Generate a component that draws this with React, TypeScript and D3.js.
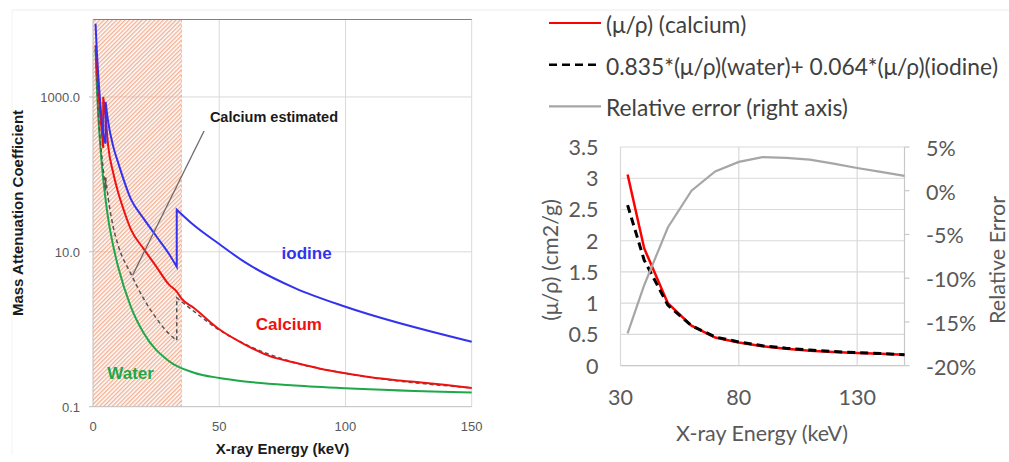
import React from 'react';
import * as d3 from 'd3';

const W = 1009;
const H = 462;

// ---------- Left chart: mass attenuation coefficient (log axis) ----------
const xTicksLeft = [0, 50, 100, 150];
const yTicksLeft = [0.1, 10, 1000];

const waterE = [1, 1.5, 2, 3, 4, 5, 6, 8, 10, 15, 20, 30, 40, 50, 60, 80, 100, 150];
const waterMu = [4200, 1450, 650, 210, 90, 47, 27, 12, 6.3, 1.95, 0.9, 0.39, 0.275, 0.235, 0.212, 0.188, 0.173, 0.152];

const iodineE = [1, 1.5, 2, 3, 4, 5, 5, 6, 8, 10, 15, 20, 25, 30, 33.17, 33.17, 40, 50, 60, 80, 100, 150];
const iodineMu = [8850, 4000, 2100, 750, 340, 250, 862, 480, 230, 140, 48, 27, 16, 9.5, 6.4, 35, 22, 12.6, 7.4, 3.4, 1.95, 0.69];

const calciumE = [1, 2, 3, 4.04, 4.04, 5, 6, 8, 10, 12, 15, 20, 25, 30, 33.17, 35, 40, 50, 60, 70, 80, 90, 100, 110, 120, 130, 140, 150];
const calciumMu = [4650, 1400, 520, 220, 1000, 560, 235, 105, 58, 36, 19.5, 11, 6.5, 3.8, 3.06, 2.5, 1.88, 1.0, 0.64, 0.45, 0.37, 0.31, 0.27, 0.24, 0.22, 0.205, 0.19, 0.174];

const estE = [1, 2, 3, 4, 5, 5, 6, 8, 10, 15, 20, 25, 30, 33.17, 33.17, 36, 40, 50, 60, 80, 100, 150];
const estMu = [4000, 720, 250, 120, 62, 92, 50, 21, 12, 5.2, 2.5, 1.4, 0.88, 0.72, 2.55, 2.15, 1.7, 0.98, 0.65, 0.37, 0.27, 0.175];

const hatchRange = [0, 35];

// annotation (data coordinates)
const annotText = 'Calcium estimated';
const annotTextAt = [46.3, 472];
const annotFrom = [44, 364];
const annotTo = [15.7, 5.0];

const seriesLabels = [
  { text: 'iodine', e: 84.6, mu: 8.0, color: '#3333EE' },
  { text: 'Calcium', e: 77.6, mu: 0.975, color: '#EE1111' },
  { text: 'Water', e: 14.9, mu: 0.225, color: '#1FA84A' },
];

// ---------- Right chart: linear axis with relative error ----------
const xTicksRight = [30, 80, 130];
const yTicksRight = [0, 0.5, 1, 1.5, 2, 2.5, 3, 3.5];
const errTicks = [-20, -15, -10, -5, 0, 5];

const rE = [33, 40, 50, 60, 70, 80, 90, 100, 110, 120, 130, 140, 150];
const rCalcium = [3.06, 1.88, 1.0, 0.64, 0.45, 0.37, 0.31, 0.27, 0.24, 0.22, 0.205, 0.19, 0.174];
const rEstimated = [2.57, 1.69, 0.97, 0.64, 0.46, 0.38, 0.32, 0.28, 0.25, 0.226, 0.21, 0.195, 0.177];
const rError = [-16.3, -10.8, -4.2, 0.0, 2.2, 3.3, 3.85, 3.75, 3.55, 3.1, 2.6, 2.15, 1.7];

const MU = '\u03bc';
const RHO = '\u03c1';
const legendItems = [
  { text: `(${MU}/${RHO}) (calcium)`, color: '#FF0000', dash: null as string | null, width: 2.2 },
  { text: `0.835*(${MU}/${RHO})(water)+ 0.064*(${MU}/${RHO})(iodine)`, color: '#000000', dash: '8,5', width: 2.5 },
  { text: 'Relative error (right axis)', color: '#A6A6A6', dash: null as string | null, width: 2.2 },
];
const rightYTitle = `(${MU}/${RHO}) (cm2/g)`;

const boldFont = '"Liberation Sans", Arial, sans-serif';
const lightFont = 'Lato, "Open Sans", sans-serif';

export default function App() {
  // left scales
  const xL = d3.scaleLinear().domain([0, 150]).range([93, 471.7]);
  const yL = d3.scaleLog().domain([0.1, 10000]).range([406.7, 19.5]);

  // smooth curve, split at absorption edges (repeated energies) which are drawn as vertical jumps
  const lineL = (E: number[], M: number[]) => {
    const pts = E.map((e, i) => [xL(e), yL(M[i])] as [number, number]);
    const segs: [number, number][][] = [];
    let cur: [number, number][] = [];
    pts.forEach((p, i) => {
      if (i > 0 && E[i] === E[i - 1]) {
        segs.push(cur);
        cur = [];
      }
      cur.push(p);
    });
    segs.push(cur);
    const gen = d3.line<[number, number]>().curve(d3.curveMonotoneX);
    return segs
      .map((s, i) => {
        const d = gen(s) || '';
        return i === 0 ? d : 'L' + d.slice(1);
      })
      .join('');
  };

  // right scales
  const xR = d3.scaleLinear().domain([30, 150]).range([620.5, 904.5]);
  const yR = d3.scaleLinear().domain([0, 3.5]).range([365.7, 147]);
  const yErr = d3.scaleLinear().domain([-20, 5]).range([365.7, 147]);
  const lineR = (E: number[], V: number[], y: (v: number) => number) =>
    d3.line<number>().x((_, i) => xR(E[i])).y((_, i) => y(V[i]))(V) || '';

  const fmtL = d3.format('.1f');

  const top = yL(10000);
  const bottom = yL(0.1);

  return (
    <svg width={W} height={H} style={{ position: 'absolute', left: 0, top: 0, background: '#fff' }}>
      <defs>
        <pattern id="hatch" patternUnits="userSpaceOnUse" width={3} height={10} patternTransform="rotate(45)">
          <rect x={0} y={0} width={1.4} height={10} fill="#EE9E7C" />
        </pattern>
      </defs>
      <rect x={0} y={0} width={W} height={H} fill="#fff" />
      {/* faint frame line of the screenshot */}
      <line x1={12} x2={W} y1={10} y2={10} stroke="#ececec" strokeWidth={1} />
      <line x1={12} x2={12} y1={10} y2={455} stroke="#f3f3f3" strokeWidth={1} />

      {/* ===== LEFT CHART ===== */}
      <g>
        {yTicksLeft.slice(1).map((t) => (
          <line key={'gy' + t} x1={xL(0)} x2={xL(150)} y1={yL(t)} y2={yL(t)} stroke="#d9d9d9" strokeWidth={1} />
        ))}
        {xTicksLeft.slice(1).map((t) => (
          <line key={'gx' + t} x1={xL(t)} x2={xL(t)} y1={top} y2={bottom} stroke="#d9d9d9" strokeWidth={1} />
        ))}
        <rect
          x={xL(hatchRange[0])}
          y={top}
          width={xL(hatchRange[1]) - xL(hatchRange[0])}
          height={bottom - top}
          fill="url(#hatch)"
          opacity={0.8}
        />
        <line x1={xL(hatchRange[1])} x2={xL(hatchRange[1])} y1={top} y2={bottom} stroke="#F2B79C" strokeWidth={1} strokeDasharray="3,2" />
        <line x1={xL(0)} x2={xL(150)} y1={top} y2={top} stroke="#808080" strokeWidth={1.2} />
        <line x1={xL(0)} x2={xL(150)} y1={bottom} y2={bottom} stroke="#bfbfbf" strokeWidth={1} />
        <line x1={xL(0)} x2={xL(0)} y1={top} y2={bottom} stroke="#bfbfbf" strokeWidth={1} />
        {yTicksLeft.map((t) => (
          <g key={'ty' + t}>
            <line x1={xL(0) - 4} x2={xL(0)} y1={yL(t)} y2={yL(t)} stroke="#bfbfbf" />
            <text x={xL(0) - 13} y={yL(t) + 1} textAnchor="end" dominantBaseline="central" fontFamily={boldFont} fontSize={13} fill="#595959">
              {fmtL(t)}
            </text>
          </g>
        ))}
        {xTicksLeft.map((t) => (
          <text key={'tx' + t} x={xL(t)} y={426} textAnchor="middle" dominantBaseline="central" fontFamily={boldFont} fontSize={13} fill="#595959">
            {t}
          </text>
        ))}
        <text x={282.5} y={454} textAnchor="middle" fontFamily={boldFont} fontWeight="bold" fontSize={15} fill="#1a1a1a">
          X-ray Energy (keV)
        </text>
        <text transform="translate(23,213) rotate(-90)" textAnchor="middle" fontFamily={boldFont} fontWeight="bold" fontSize={15} fill="#1a1a1a">
          Mass Attenuation Coefficient
        </text>

        <path d={lineL(waterE, waterMu)} fill="none" stroke="#1FA84A" strokeWidth={2} />
        <path d={lineL(estE, estMu)} fill="none" stroke="#555" strokeWidth={1.5} strokeDasharray="4,3" />
        <path d={lineL(calciumE, calciumMu)} fill="none" stroke="#EE1111" strokeWidth={2} />
        <path d={lineL(iodineE, iodineMu)} fill="none" stroke="#3333EE" strokeWidth={2} />

        <line x1={xL(annotFrom[0])} y1={yL(annotFrom[1])} x2={xL(annotTo[0])} y2={yL(annotTo[1])} stroke="#6b6b6b" strokeWidth={1.3} />
        <text x={xL(annotTextAt[0])} y={yL(annotTextAt[1])} fontFamily={boldFont} fontWeight="bold" fontSize={14.5} fill="#1a1a1a">
          {annotText}
        </text>

        {seriesLabels.map((s) => (
          <text key={s.text} x={xL(s.e)} y={yL(s.mu)} textAnchor="middle" fontFamily={boldFont} fontWeight="bold" fontSize={17} fill={s.color}>
            {s.text}
          </text>
        ))}
      </g>

      {/* ===== RIGHT CHART ===== */}
      <g>
        {legendItems.map((it, i) => {
          const y = 23 + i * 41.7;
          return (
            <g key={'lg' + i}>
              <line x1={549} x2={601} y1={y} y2={y} stroke={it.color} strokeWidth={it.width} strokeDasharray={it.dash || undefined} />
              <text x={606} y={y + 1} dominantBaseline="central" fontFamily={lightFont} fontSize={22.8} fill="#404040">
                {it.text}
              </text>
            </g>
          );
        })}

        {yTicksRight.slice(1).map((t) => (
          <line key={'rgy' + t} x1={xR(30)} x2={xR(150)} y1={yR(t)} y2={yR(t)} stroke="#d9d9d9" strokeWidth={1.2} />
        ))}
        {xTicksRight.map((t) => (
          <line key={'rgx' + t} x1={xR(t)} x2={xR(t)} y1={yR(3.5)} y2={yR(0)} stroke="#d9d9d9" strokeWidth={1.2} />
        ))}
        <line x1={xR(30)} x2={xR(150)} y1={yR(0)} y2={yR(0)} stroke="#c8c8c8" strokeWidth={1.2} />
        <line x1={xR(150)} x2={xR(150)} y1={yErr(5)} y2={yErr(-20)} stroke="#c8c8c8" strokeWidth={1.2} />
        {errTicks.map((t) => (
          <line key={'et' + t} x1={xR(150)} x2={xR(150) + 5} y1={yErr(t)} y2={yErr(t)} stroke="#c8c8c8" strokeWidth={1.2} />
        ))}

        {yTicksRight.map((t) => (
          <text key={'ryl' + t} x={598.5} y={yR(t)} textAnchor="end" dominantBaseline="central" fontFamily={lightFont} fontSize={21.5} fill="#595959">
            {String(t)}
          </text>
        ))}
        {xTicksRight.map((t) => (
          <text key={'rxl' + t} x={xR(t)} y={397} textAnchor="middle" dominantBaseline="central" fontFamily={lightFont} fontSize={21.5} fill="#595959">
            {t}
          </text>
        ))}
        {errTicks.map((t) => (
          <text key={'erl' + t} x={926} y={yErr(t) + 1} dominantBaseline="central" fontFamily={lightFont} fontSize={21.5} fill="#595959">
            {`${t}%`}
          </text>
        ))}
        <text x={762} y={433} textAnchor="middle" dominantBaseline="central" fontFamily={lightFont} fontSize={21.5} fill="#595959">
          X-ray Energy (keV)
        </text>
        <text transform="translate(550,260) rotate(-90)" textAnchor="middle" dominantBaseline="central" fontFamily={lightFont} fontSize={21.5} fill="#595959">
          {rightYTitle}
        </text>
        <text transform="translate(996.5,260) rotate(-90)" textAnchor="middle" dominantBaseline="central" fontFamily={lightFont} fontSize={21.5} fill="#595959">
          Relative Error
        </text>

        <path d={lineR(rE, rCalcium, yR)} fill="none" stroke="#FF0000" strokeWidth={2.5} />
        <path d={lineR(rE, rEstimated, yR)} fill="none" stroke="#000" strokeWidth={3} strokeDasharray="8,5" />
        <path d={lineR(rE, rError, yErr)} fill="none" stroke="#A6A6A6" strokeWidth={2.2} />
      </g>
    </svg>
  );
}
